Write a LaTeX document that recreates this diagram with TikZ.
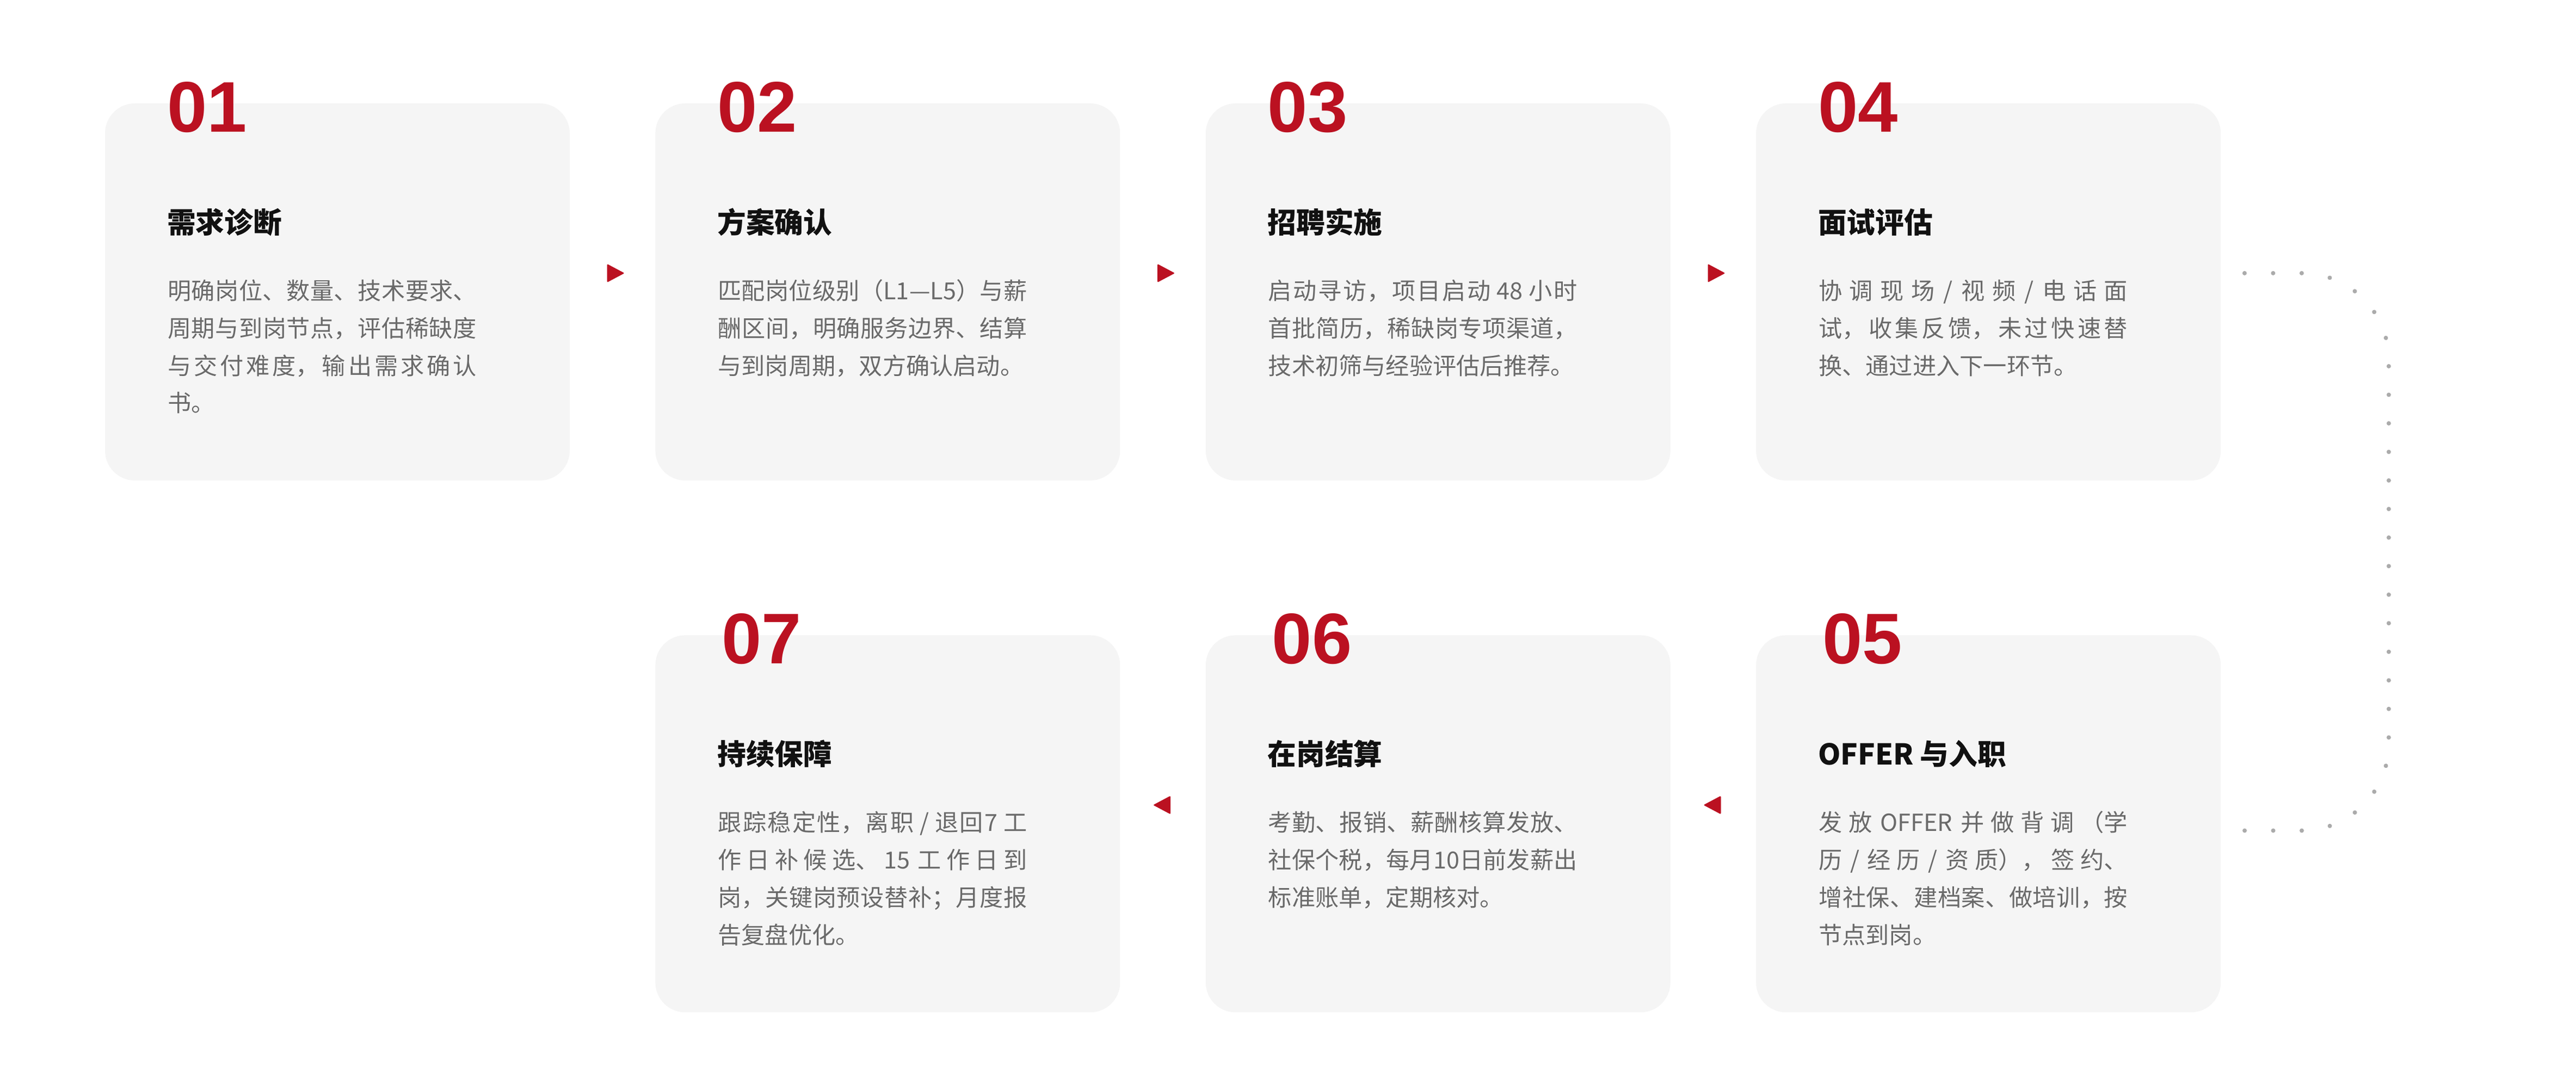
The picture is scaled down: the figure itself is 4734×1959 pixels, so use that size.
\documentclass[tikz,border=0pt]{standalone}
\usepackage{fontspec}
\newfontfamily\cjk{Noto Sans CJK SC}
\newfontfamily\numfont{Liberation Sans}
\usetikzlibrary{positioning,decorations.markings}
\definecolor{stepred}{HTML}{BB1121}
\definecolor{boxgray}{HTML}{F5F5F5}
\definecolor{descgray}{HTML}{6A6A6A}
\definecolor{titleblack}{HTML}{111111}
\definecolor{dotgray}{HTML}{ABABAB}
\XeTeXlinebreaklocale "zh"
\XeTeXlinebreakskip=0pt plus 3pt minus 0.5pt
\tolerance=10000
\hbadness=10000

\begin{document}
\begin{tikzpicture}[x=0.1mm,y=-0.1mm,
  stepbox/.style={fill=boxgray,rounded corners=5.5mm,minimum width=85.4mm,minimum height=69.3mm,inner sep=0},
  num/.style={anchor=base west,inner sep=0,text=stepred,font=\numfont\bfseries\fontsize{37.5}{40}\selectfont},
  steptitle/.style={anchor=base west,inner sep=0,text=titleblack,font=\cjk\bfseries\fontsize{15}{18}\selectfont},
  desc/.style={anchor=base west,inner sep=0,text=descgray,text width=56.8mm,align=justify,font=\cjk\fontsize{12.3}{19.6}\selectfont},
  arrowtri/.style={fill=stepred,rounded corners=0.2mm},
  dotline/.style={rounded corners=16mm,decoration={markings,mark=between positions 0 and 1 step 0.03703 with {\fill[dotgray] circle (0.4mm);}},postaction={decorate}}]
\fill[white] (0,0) rectangle (4734,1959);
\useasboundingbox (0,0) rectangle (4734,1959);

\node[stepbox] (s1) at (620,536.5) {};
\node[stepbox,right=15.6mm of s1] (s2) {};
\node[stepbox,right=15.6mm of s2] (s3) {};
\node[stepbox,right=15.6mm of s3] (s4) {};
\node[stepbox,below=28.3mm of s4] (s5) {};
\node[stepbox,left=15.6mm of s5] (s6) {};
\node[stepbox,left=15.6mm of s6] (s7) {};

\node[num] (n1) at ([shift={(114,53)}]s1.north west) {01};
\node[steptitle] (t1) at ([shift={(114,239)}]s1.north west) {需求诊断};
\node[desc] (d1) at ([shift={(115,361)}]s1.north west) {明确岗位、数量、技术要求、\linebreak 周期与到岗节点，评估稀缺度\linebreak 与交付难度，输出需求确认\linebreak 书。};

\node[num] (n2) at ([shift={(114,53)}]s2.north west) {02};
\node[steptitle] (t2) at ([shift={(114,239)}]s2.north west) {方案确认};
\node[desc] (d2) at ([shift={(115,361)}]s2.north west) {匹配岗位级别（L1—L5）与薪\linebreak 酬区间，明确服务边界、结算\linebreak 与到岗周期，双方确认启动。};

\node[num] (n3) at ([shift={(114,53)}]s3.north west) {03};
\node[steptitle] (t3) at ([shift={(114,239)}]s3.north west) {招聘实施};
\node[desc] (d3) at ([shift={(115,361)}]s3.north west) {启动寻访，项目启动 48 小时\linebreak 首批简历，稀缺岗专项渠道，\linebreak 技术初筛与经验评估后推荐。};

\node[num] (n4) at ([shift={(114,53)}]s4.north west) {04};
\node[steptitle] (t4) at ([shift={(114,239)}]s4.north west) {面试评估};
\node[desc] (d4) at ([shift={(115,361)}]s4.north west) {协调现场 / 视频 / 电话面\linebreak 试，收集反馈，未过快速替\linebreak 换、通过进入下一环节。};

\node[num] (n5) at ([shift={(122,53)}]s5.north west) {05};
\node[steptitle] (t5) at ([shift={(114,239)}]s5.north west) {OFFER 与入职};
\node[desc] (d5) at ([shift={(115,361)}]s5.north west) {发放 OFFER 并做背调（学\linebreak 历 / 经历 / 资质），签约、\linebreak 增社保、建档案、做培训，按\linebreak 节点到岗。};

\node[num] (n6) at ([shift={(122,53)}]s6.north west) {06};
\node[steptitle] (t6) at ([shift={(114,239)}]s6.north west) {在岗结算};
\node[desc] (d6) at ([shift={(115,361)}]s6.north west) {考勤、报销、薪酬核算发放、\linebreak 社保个税，每月10日前发薪出\linebreak 标准账单，定期核对。};

\node[num] (n7) at ([shift={(122,53)}]s7.north west) {07};
\node[steptitle] (t7) at ([shift={(114,239)}]s7.north west) {持续保障};
\node[desc] (d7) at ([shift={(115,361)}]s7.north west) {跟踪稳定性，离职 / 退回7 工\linebreak 作日补候选、15 工作日到\linebreak 岗，关键岗预设替补；月度报\linebreak 告复盘优化。};

\fill[arrowtri] ([shift={(68,-51.5)}]s1.east) -- ++(32,17) -- ++(-32,17) -- cycle;
\fill[arrowtri] ([shift={(68,-51.5)}]s2.east) -- ++(32,17) -- ++(-32,17) -- cycle;
\fill[arrowtri] ([shift={(68,-51.5)}]s3.east) -- ++(32,17) -- ++(-32,17) -- cycle;
\fill[arrowtri] ([shift={(-64,-51.5)}]s6.west) -- ++(-32,17) -- ++(32,17) -- cycle;
\fill[arrowtri] ([shift={(-64,-51.5)}]s5.west) -- ++(-32,17) -- ++(32,17) -- cycle;

\coordinate (c4) at ([shift={(43,-34.5)}]s4.east);
\coordinate (c5) at ([shift={(43,12.5)}]s5.east);
\path[dotline] (c4) -- ++(265,0) |- (c5);
\end{tikzpicture}
\end{document}
